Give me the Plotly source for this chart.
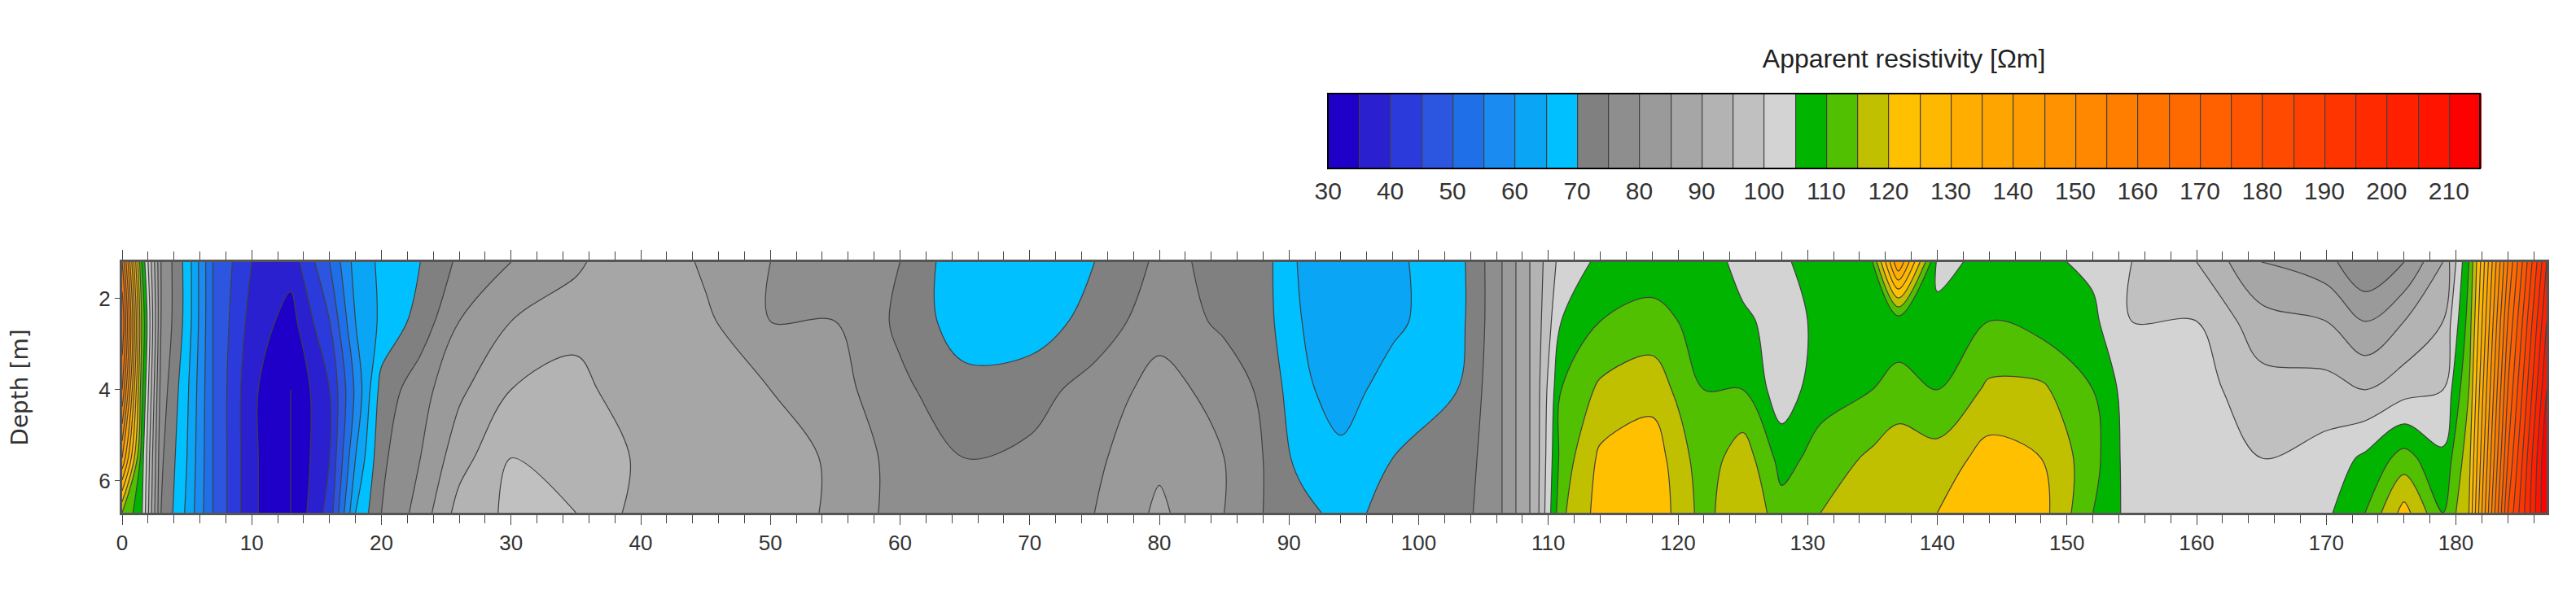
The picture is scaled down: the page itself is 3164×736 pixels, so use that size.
import plotly.graph_objects as go
import numpy as np

# distance along profile [m] and depth rows [m]
dist = [0, 1.5, 3, 5, 7, 10, 13, 16, 18, 20, 23, 26, 30, 35, 40, 45, 50, 55, 60,
        65, 70, 75, 80, 85, 88, 91, 94, 98, 103, 106, 109, 111, 114, 118, 122,
        125, 128, 131, 135, 137, 140, 144, 148, 152, 155, 160, 165, 170, 173,
        176, 179, 181, 184, 187]
depth = [1.2, 2.5, 4.0, 5.5, 6.7]

# apparent resistivity, one list per depth row
rho_12 = [160, 110, 80, 68, 50, 40, 37, 50, 62, 66, 70, 76, 80, 84, 90, 84, 80, 78, 75,
          66, 66, 70, 76, 74, 72, 64, 62, 64, 68, 78, 92, 102, 106, 107, 108,
          103, 104, 108, 110, 140, 104, 106, 106, 104, 100, 95, 85, 82, 75,
          80, 90, 110, 160, 200]
rho_25 = [170, 115, 80, 68, 50, 38, 33, 45, 60, 66, 72, 80, 85, 88, 88, 86, 80, 80, 74,
          67, 67, 72, 78, 74, 72, 65, 62, 64, 68, 78, 92, 105, 110, 112, 108,
          106, 103, 106, 106, 107, 106, 110, 108, 106, 100, 100, 92, 90, 85,
          90, 95, 112, 165, 205]
rho_40 = [160, 112, 78, 66, 50, 36, 30, 40, 56, 72, 78, 84, 90, 92, 86, 88, 85, 82, 76,
          72, 73, 77, 82, 78, 74, 66, 63, 67, 70, 78, 92, 110, 116, 118, 110,
          110, 102, 108, 110, 112, 110, 116, 116, 110, 102, 102, 97, 97, 95,
          98, 100, 115, 170, 210]
rho_55 = [140, 108, 76, 65, 50, 36, 30, 40, 60, 74, 80, 88, 95, 95, 89, 88, 88, 84, 78,
          75, 76, 79, 84, 80, 75, 68, 66, 70, 72, 78, 92, 112, 121, 123, 112,
          118, 108, 112, 116, 118, 117, 122, 120, 112, 102, 103, 100, 102, 106,
          112, 106, 118, 175, 215]
rho_67 = [115, 106, 75, 64, 50, 36, 30, 42, 65, 75, 82, 92, 96, 95, 88, 88, 88, 84, 78,
          76, 77, 80, 86, 80, 75, 72, 68, 72, 73, 78, 92, 114, 122, 124, 113,
          120, 112, 115, 118, 118, 120, 124, 122, 110, 103, 103, 102, 104, 110,
          122, 110, 120, 180, 215]

# one colour per 5 Ohm.m band, 30 ... 215
band_colors = [
    "#1f00c8", "#2a20d0", "#2b3adb", "#2c55e0", "#1f6fe8", "#1a8bf0", "#0aa5f5", "#00c0ff",
    "#808080", "#8e8e8e", "#9a9a9a", "#a6a6a6", "#b3b3b3", "#c0c0c0", "#d3d3d3",
    "#00b400", "#50c000", "#c0c000", "#ffc000", "#ffb800", "#ffae00", "#ffa500",
    "#ff9c00", "#ff9200", "#ff8800", "#ff7e00", "#ff7400", "#ff6a00", "#ff6000",
    "#ff5500", "#ff4a00", "#ff4000", "#ff3500", "#ff2a00", "#ff2000", "#ff1400", "#ff0000",
]
tick_vals = list(range(30, 211, 10))

n = len(band_colors)
cscale = []
for i, c in enumerate(band_colors):
    cscale.append([i / n, c])
    cscale.append([(i + 1) / n, c])

z = np.array([rho_12, rho_25, rho_40, rho_55, rho_67])

fig = go.Figure(go.Contour(
    x=dist, y=depth, z=z,
    zmin=30, zmax=215, autocontour=False,
    contours=dict(start=30, end=215, size=5, coloring="fill"),
    colorscale=cscale,
    line=dict(color="#404040", width=1.2),
    colorbar=dict(
        orientation="h", x=0.494, xanchor="left", len=0.482, lenmode="fraction",
        y=1.227, yanchor="bottom", thickness=92,
        tickvals=tick_vals, ticks="", outlinecolor="black", outlinewidth=2,
        tickfont=dict(size=30, color="#333"),
        title=dict(text="Apparent resistivity [Ωm]", side="top",
                   font=dict(size=32, color="#222")),
    ),
))

fig.update_layout(
    width=3164, height=736,
    margin=dict(l=142, r=44, t=314, b=114, autoexpand=False),
    paper_bgcolor="white", plot_bgcolor="white",
    font=dict(family="Liberation Sans Narrow, Liberation Sans, Arial", color="#333"),
)
fig.update_xaxes(range=[0, 187], tickvals=list(range(0, 181, 10)), ticks="outside",
                 ticklen=12, tickfont=dict(size=26), showline=True, linecolor="#555",
                 linewidth=3, mirror="ticks", showgrid=False, zeroline=False,
                 minor=dict(dtick=2, ticks="outside", ticklen=10))
fig.update_yaxes(range=[6.7, 1.2], tickvals=[2, 4, 6], ticks="outside", ticklen=6,
                 tickfont=dict(size=26), showline=True, linecolor="#555", linewidth=3,
                 mirror=True, showgrid=False, zeroline=False,
                 title=dict(text="Depth [m]", standoff=10,
                            font=dict(size=28, family="DejaVu Sans")))

fig.write_html("out.html")
